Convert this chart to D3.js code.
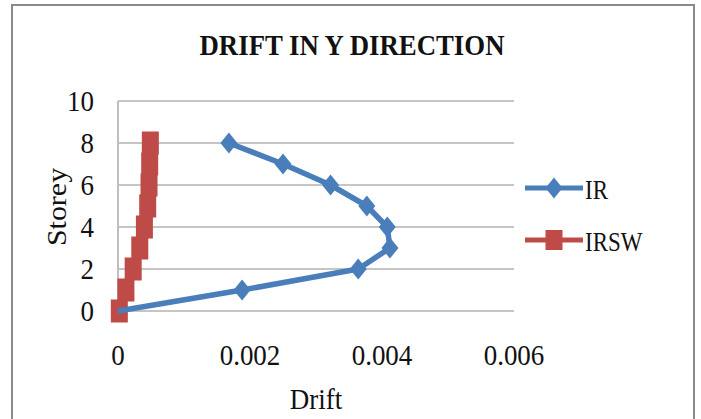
<!DOCTYPE html>
<html>
<head>
<meta charset="utf-8">
<script src="https://cdn.jsdelivr.net/npm/d3@7"></script>
<style>
  html, body { margin: 0; padding: 0; background: #fff; }
  svg { display: block; }
  text { font-family: "Liberation Serif", "Times New Roman", serif; fill: #111; }
</style>
</head>
<body>
<svg id="chart" width="701" height="419"></svg>
<script>
// ---- data ----
const storeys = [0, 1, 2, 3, 4, 5, 6, 7, 8];
const irDrift = [0, 0.00188, 0.00364, 0.00412, 0.00408, 0.00377, 0.00322, 0.00250, 0.00168];
const irswDrift = [0.00002, 0.00012, 0.00023, 0.00033, 0.00040, 0.00045, 0.00047, 0.00048, 0.00049];
const xTicks = [0, 0.002, 0.004, 0.006];
const xTickLabels = ["0", "0.002", "0.004", "0.006"];
const yTicks = [0, 2, 4, 6, 8, 10];
const seriesNames = ["IR", "IRSW"];
const titleText = "DRIFT IN Y DIRECTION";
const xTitle = "Drift";
const yTitle = "Storey";

const blue = "#4a7ebb";
const red = "#be4b48";

const svg = d3.select("#chart");

// outer frame
svg.append("rect").attr("x", 12).attr("y", 5).attr("width", 682).attr("height", 430)
  .attr("fill", "#fff").attr("stroke", "#8a8a8a").attr("stroke-width", 2);

const x = d3.scaleLinear().domain([0, 0.006]).range([118, 514]);
const y = d3.scaleLinear().domain([0, 10]).range([311, 101]);

function label(parent, px, py, str, size, anchor, sx, rot) {
  return parent.append("text")
    .attr("transform", `translate(${px},${py})${rot ? " rotate(" + rot + ")" : ""} scale(${sx},1)`)
    .attr("text-anchor", anchor).attr("font-size", size).text(str);
}

// gridlines
svg.append("g").selectAll("line").data(yTicks).join("line")
  .attr("x1", x(0)).attr("x2", x(0.006))
  .attr("y1", d => y(d)).attr("y2", d => y(d))
  .attr("stroke", "#8c8c8c").attr("stroke-width", 1.2);

// vertical axis line
svg.append("line").attr("x1", x(0)).attr("x2", x(0)).attr("y1", y(10)).attr("y2", y(0))
  .attr("stroke", "#bfbfbf").attr("stroke-width", 2);

// y tick labels
const gy = svg.append("g");
yTicks.forEach(d => label(gy, 94, y(d) + 10, d, 30, "end", 0.9));

// x tick labels
const gx = svg.append("g");
xTicks.forEach((d, i) => label(gx, x(d), 365, xTickLabels[i], 30, "middle", 0.9));

// titles
svg.append("text").attr("x", 352).attr("y", 55).attr("text-anchor", "middle")
  .attr("font-size", 29).attr("font-weight", "bold")
  .attr("textLength", 305).attr("lengthAdjust", "spacingAndGlyphs")
  .text(titleText);
label(svg, 316, 409, xTitle, 30, "middle", 0.9);
svg.append("text").attr("transform", "translate(66,207) rotate(-90) scale(1,0.9)")
  .attr("text-anchor", "middle").attr("font-size", 30).text(yTitle);

const line = d3.line().x(d => x(d[0])).y(d => y(d[1]));
const irData = storeys.map((s, i) => [irDrift[i], s]);
const irswData = storeys.map((s, i) => [irswDrift[i], s]);

const diamond = "M0,-10.5L8.5,0L0,10.5L-8.5,0Z";
const sqW = 17, sqH = 23;

// IRSW series
svg.append("path").datum(irswData).attr("d", line)
  .attr("fill", "none").attr("stroke", red).attr("stroke-width", 5).attr("stroke-linejoin", "round");
svg.append("g").selectAll("rect").data(irswData).join("rect")
  .attr("x", d => x(d[0]) - sqW / 2).attr("y", d => y(d[1]) - sqH / 2)
  .attr("width", sqW).attr("height", sqH).attr("fill", red);

// IR series
svg.append("path").datum(irData).attr("d", line)
  .attr("fill", "none").attr("stroke", blue).attr("stroke-width", 5.5).attr("stroke-linejoin", "round");
svg.append("g").selectAll("path").data(irData.slice(1)).join("path")
  .attr("d", diamond)
  .attr("transform", d => `translate(${x(d[0])},${y(d[1])})`)
  .attr("fill", blue);

// legend
const legY = [188, 240];
const legColors = [blue, red];
seriesNames.forEach((name, i) => {
  const g = svg.append("g");
  g.append("line").attr("x1", 525).attr("x2", 583).attr("y1", legY[i]).attr("y2", legY[i])
    .attr("stroke", legColors[i]).attr("stroke-width", 5);
  if (i === 0) {
    g.append("path").attr("d", diamond).attr("transform", `translate(554,${legY[i]})`).attr("fill", blue);
  } else {
    g.append("rect").attr("x", 554 - sqW / 2).attr("y", legY[i] - 10).attr("width", sqW).attr("height", 20).attr("fill", red);
  }
  label(g, 585, legY[i] + 11, name, 27, "start", 0.85);
});
</script>
</body>
</html>
